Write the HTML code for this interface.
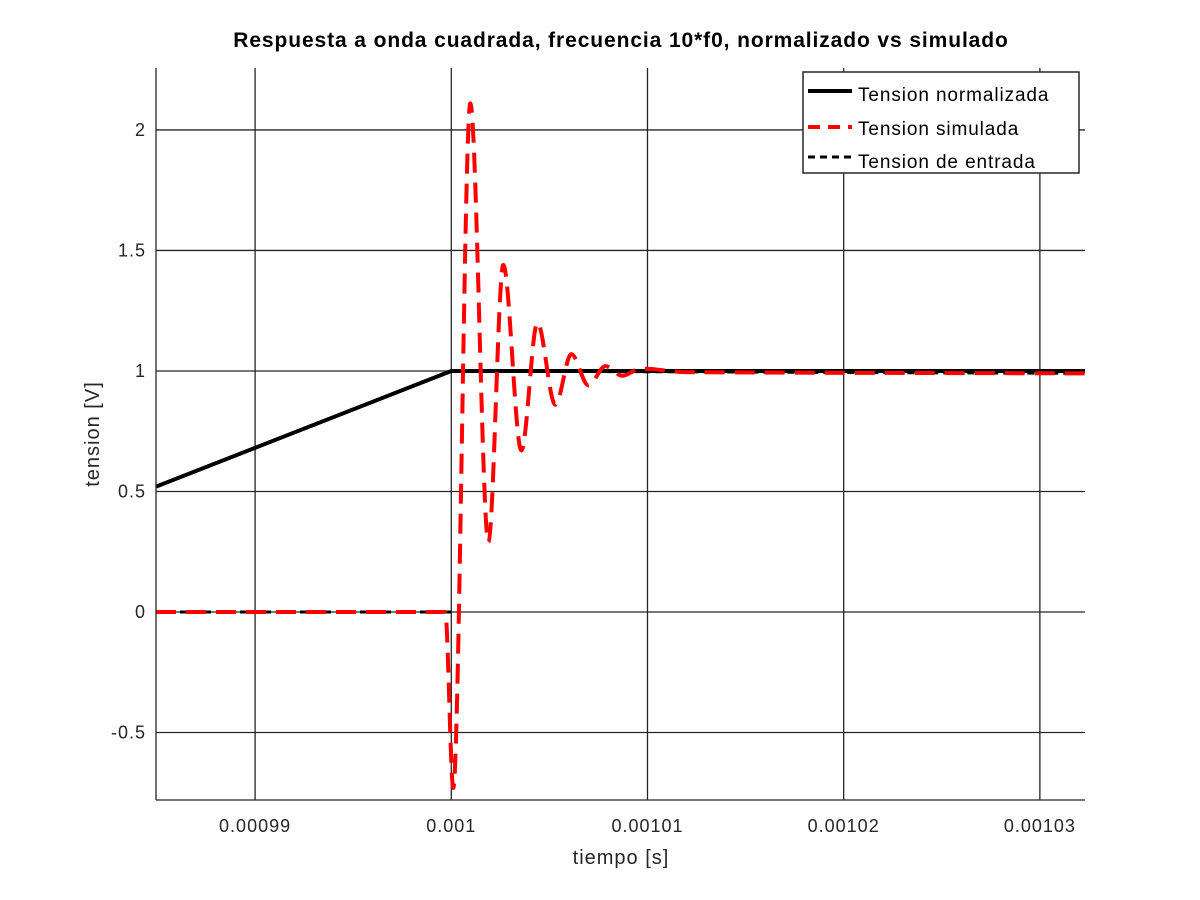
<!DOCTYPE html>
<html><head><meta charset="utf-8"><style>
body{margin:0;background:#fff}
svg{display:block;font-family:"Liberation Sans",sans-serif}
</style></head><body>
<svg id="chart" width="1200" height="900" viewBox="0 0 1200 900">
<rect width="1200" height="900" fill="#fff"/>
<text x="621" y="47" text-anchor="middle" font-size="21" font-weight="bold" letter-spacing="0.9">Respuesta a onda cuadrada, frecuencia 10*f0, normalizado vs simulado</text>
<g id="grid"></g>
<g id="ticks" font-size="18" letter-spacing="1" fill="#262626"></g>
<defs><clipPath id="clip"><rect x="156" y="68" width="929" height="732"/></clipPath></defs>
<g id="series" clip-path="url(#clip)"></g>
<line x1="156" y1="68" x2="156" y2="800" stroke="#262626" stroke-width="1.3"/>
<line x1="156" y1="800" x2="1085" y2="800" stroke="#262626" stroke-width="1.3"/>
<text x="621" y="864" text-anchor="middle" font-size="20" letter-spacing="1" fill="#262626">tiempo [s]</text>
<text transform="translate(99,434) rotate(-90)" text-anchor="middle" font-size="20" letter-spacing="1" fill="#262626">tension [V]</text>
<g>
<rect x="803" y="72" width="276" height="101" fill="#fff" stroke="#262626" stroke-width="1.5"/>
<line x1="808" y1="91" x2="852" y2="91" stroke="#000" stroke-width="4"/>
<text x="858" y="101" font-size="19" letter-spacing="0.9">Tension normalizada</text>
<line x1="808" y1="127" x2="852" y2="127" stroke="#f00" stroke-width="4" stroke-dasharray="12,8"/>
<text x="858" y="135" font-size="19" letter-spacing="0.9">Tension simulada</text>
<line x1="808" y1="157" x2="852" y2="157" stroke="#000" stroke-width="3" stroke-dasharray="7,5"/>
<text x="858" y="168" font-size="19" letter-spacing="0.9">Tension de entrada</text>
</g>
</svg>
<script>
const xTicks=[0.00099,0.001,0.00101,0.00102,0.00103];
const xTickLabels=["0.00099","0.001","0.00101","0.00102","0.00103"];
const yTicks=[-0.5,0,0.5,1,1.5,2];
const yTickLabels=["-0.5","0","0.5","1","1.5","2"];
const normT=[0.000984949,0.001,0.0010323];
const normV=[0.52,1,1];
const inLowT=[0.000984949,0.001];
const inLowV=[0,0];
const inHighT=[0.001,0.0010323];
const inHighV=[1,0.99];
const simT=[0.000984949,0.00099969,0.0010001,0.00100097,0.00100189,0.00100265,0.00100357,0.00100439,0.0010053,0.00100612,0.00100699,0.00100786,0.00100872,0.00100964,0.00101200,0.0010323];
const simV=[0,0,-0.73,2.11,0.29,1.44,0.67,1.20,0.86,1.07,0.94,1.02,0.98,1.01,0.995,0.99];
const X0=0.000984949,X1=0.0010323,Y0=-0.78,Y1=2.257;
const sx=t=>156+(t-X0)/(X1-X0)*929;
const sy=v=>800-(v-Y0)/(Y1-Y0)*732;
const NS="http://www.w3.org/2000/svg";
function mk(tag,attrs,parent){const e=document.createElementNS(NS,tag);for(const k in attrs)e.setAttribute(k,attrs[k]);parent.appendChild(e);return e;}
const grid=document.getElementById('grid'),ticks=document.getElementById('ticks'),series=document.getElementById('series');
xTicks.forEach((t,i)=>{
 const l=mk('line',{x1:sx(t),x2:sx(t),y1:68,y2:800,stroke:'#262626','stroke-width':1.3},grid);
 
 
 const tx=mk('text',{x:sx(t),y:832,'text-anchor':'middle'},ticks);
 tx.textContent=xTickLabels[i];
 
 
});
yTicks.forEach((v,i)=>{
 const l=mk('line',{x1:156,x2:1085,y1:sy(v),y2:sy(v),stroke:'#262626','stroke-width':1.3},grid);
 
 
 const tx=mk('text',{x:146,y:sy(v)+6,'text-anchor':'end'},ticks);
 tx.textContent=yTickLabels[i];
 
 
});
function lin(T,V){return T.map((t,i)=>(i?'L':'M')+sx(t).toFixed(2)+','+sy(V[i]).toFixed(2)).join('');}
function monotone(T,V){
 const x=T.map(sx),y=V.map(sy),n=x.length,d=[],m=[];
 for(let i=0;i<n-1;i++)d.push((y[i+1]-y[i])/(x[i+1]-x[i]));
 m[0]=d[0];m[n-1]=d[n-2];
 for(let i=1;i<n-1;i++)m[i]=(d[i-1]*d[i]<=0)?0:(2/(1/d[i-1]+1/d[i]));
 let p='M'+x[0]+','+y[0];
 for(let i=0;i<n-1;i++){const h=(x[i+1]-x[i])/3;
  p+='C'+(x[i]+h)+','+(y[i]+m[i]*h)+' '+(x[i+1]-h)+','+(y[i+1]-m[i+1]*h)+' '+x[i+1]+','+y[i+1];}
 return p;}
const pn=mk('path',{d:lin(normT,normV),fill:'none',stroke:'#000','stroke-width':4},series);


const pi=mk('path',{d:lin(inLowT,inLowV)+lin(inHighT,inHighV),fill:'none',stroke:'#000','stroke-width':3,'stroke-dasharray':'7,5'},series);


const ps=mk('path',{d:monotone(simT,simV),fill:'none',stroke:'#f00','stroke-width':4,'stroke-dasharray':'20,10'},series);


</script>
</body></html>
